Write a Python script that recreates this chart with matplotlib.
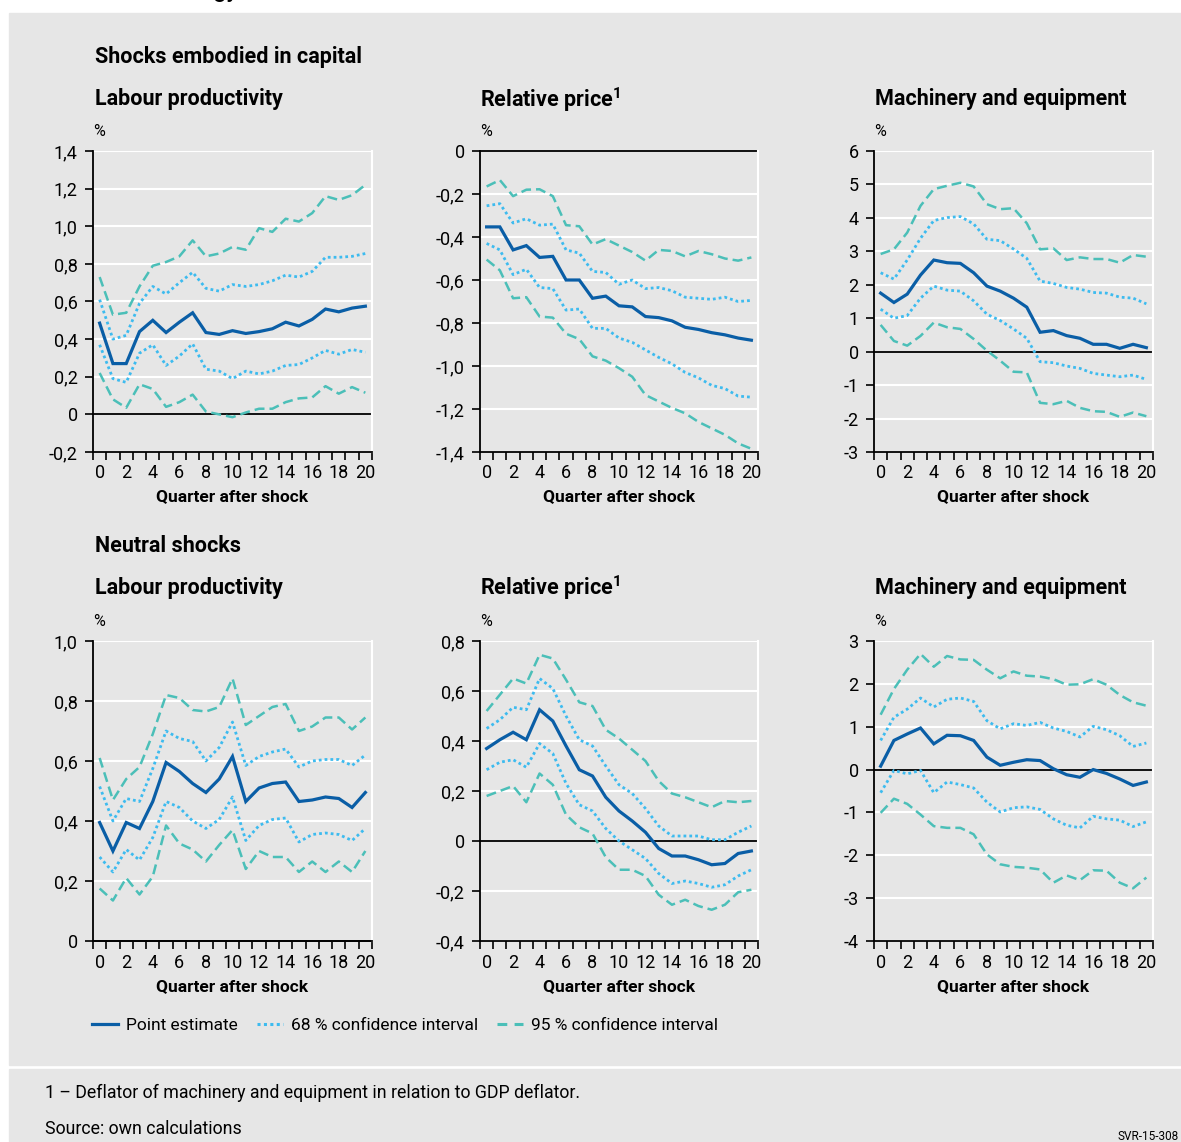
import matplotlib.pyplot as plt
from matplotlib.lines import Line2D
from matplotlib.patches import Rectangle

plt.rcParams['font.family'] = ['Roboto', 'DejaVu Sans']
plt.rcParams['mathtext.fontset'] = 'custom'
plt.rcParams['mathtext.rm'] = 'Roboto'
plt.rcParams['mathtext.bf'] = 'Roboto:bold'

# ------------------------------
# Data
quarters = list(range(21))

# Shocks embodied in capital - labour productivity
emb_lp_point = [0.485, 0.27, 0.27, 0.44, 0.50, 0.435, 0.49, 0.54, 0.435, 0.425, 0.445,
                0.43, 0.44, 0.455, 0.49, 0.47, 0.505, 0.56, 0.545, 0.565, 0.575]
emb_lp_hi68 = [0.61, 0.40, 0.42, 0.59, 0.68, 0.64, 0.70, 0.755, 0.67, 0.655, 0.69,
               0.68, 0.69, 0.71, 0.74, 0.73, 0.76, 0.835, 0.835, 0.84, 0.855]
emb_lp_lo68 = [0.37, 0.19, 0.17, 0.325, 0.37, 0.26, 0.31, 0.375, 0.24, 0.23, 0.19,
               0.23, 0.215, 0.23, 0.26, 0.265, 0.30, 0.34, 0.32, 0.345, 0.33]
emb_lp_hi95 = [0.73, 0.53, 0.54, 0.68, 0.79, 0.81, 0.84, 0.925, 0.84, 0.855, 0.89,
               0.875, 0.99, 0.97, 1.04, 1.025, 1.07, 1.16, 1.14, 1.165, 1.22]
emb_lp_lo95 = [0.22, 0.08, 0.035, 0.16, 0.135, 0.04, 0.065, 0.105, 0.015, 0.0, -0.015,
               0.01, 0.03, 0.03, 0.065, 0.085, 0.09, 0.15, 0.11, 0.145, 0.115]

# Shocks embodied in capital - relative price
emb_rp_point = [-0.353, -0.353, -0.46, -0.44, -0.495, -0.49, -0.60, -0.60, -0.685, -0.675, -0.72,
                -0.725, -0.77, -0.775, -0.79, -0.82, -0.83, -0.845, -0.855, -0.87, -0.88]
emb_rp_hi68 = [-0.255, -0.245, -0.335, -0.315, -0.345, -0.34, -0.46, -0.475, -0.56, -0.565, -0.62,
               -0.60, -0.64, -0.635, -0.65, -0.68, -0.685, -0.69, -0.68, -0.70, -0.695]
emb_rp_lo68 = [-0.43, -0.46, -0.575, -0.55, -0.635, -0.64, -0.74, -0.735, -0.825, -0.825, -0.87,
               -0.89, -0.925, -0.96, -0.99, -1.03, -1.055, -1.09, -1.105, -1.14, -1.145]
emb_rp_hi95 = [-0.165, -0.135, -0.21, -0.18, -0.178, -0.21, -0.345, -0.35, -0.435, -0.41, -0.44,
               -0.47, -0.51, -0.46, -0.465, -0.49, -0.465, -0.48, -0.50, -0.51, -0.495]
emb_rp_lo95 = [-0.505, -0.555, -0.685, -0.68, -0.77, -0.775, -0.85, -0.875, -0.955, -0.975, -1.01,
               -1.05, -1.135, -1.165, -1.195, -1.22, -1.26, -1.29, -1.32, -1.36, -1.385]

# Shocks embodied in capital - machinery and equipment
emb_me_point = [1.75, 1.47, 1.72, 2.29, 2.74, 2.66, 2.64, 2.36, 1.96, 1.81, 1.60,
                1.33, 0.58, 0.63, 0.48, 0.40, 0.22, 0.22, 0.10, 0.22, 0.12]
emb_me_hi68 = [2.36, 2.17, 2.74, 3.39, 3.92, 4.01, 4.04, 3.82, 3.36, 3.32, 3.07,
               2.79, 2.11, 2.04, 1.92, 1.87, 1.77, 1.75, 1.63, 1.60, 1.43]
emb_me_lo68 = [1.27, 1.00, 1.08, 1.60, 1.96, 1.84, 1.81, 1.52, 1.12, 0.93, 0.68,
               0.40, -0.30, -0.33, -0.43, -0.50, -0.65, -0.70, -0.75, -0.70, -0.83]
emb_me_hi95 = [2.92, 3.06, 3.56, 4.36, 4.86, 4.96, 5.05, 4.94, 4.41, 4.26, 4.29,
               3.84, 3.06, 3.09, 2.74, 2.82, 2.77, 2.77, 2.66, 2.89, 2.84]
emb_me_lo95 = [0.80, 0.32, 0.18, 0.47, 0.87, 0.73, 0.68, 0.38, 0.03, -0.27, -0.60,
               -0.62, -1.53, -1.57, -1.47, -1.68, -1.78, -1.80, -1.95, -1.82, -1.93]

# Neutral shocks - labour productivity
neu_lp_point = [0.395, 0.30, 0.395, 0.375, 0.465, 0.595, 0.565, 0.525, 0.495, 0.54, 0.615,
                0.465, 0.51, 0.525, 0.53, 0.465, 0.47, 0.48, 0.475, 0.445, 0.495]
neu_lp_hi68 = [0.515, 0.40, 0.475, 0.465, 0.575, 0.70, 0.675, 0.665, 0.60, 0.645, 0.73,
               0.585, 0.615, 0.63, 0.64, 0.58, 0.60, 0.605, 0.605, 0.585, 0.62]
neu_lp_lo68 = [0.28, 0.23, 0.305, 0.27, 0.345, 0.465, 0.445, 0.40, 0.375, 0.405, 0.48,
               0.335, 0.385, 0.405, 0.41, 0.33, 0.355, 0.36, 0.355, 0.335, 0.375]
neu_lp_hi95 = [0.61, 0.47, 0.54, 0.58, 0.69, 0.82, 0.81, 0.77, 0.765, 0.78, 0.875,
               0.72, 0.75, 0.78, 0.79, 0.70, 0.715, 0.745, 0.745, 0.705, 0.745]
neu_lp_lo95 = [0.175, 0.135, 0.21, 0.155, 0.215, 0.385, 0.325, 0.305, 0.265, 0.32, 0.37,
               0.24, 0.30, 0.28, 0.28, 0.23, 0.265, 0.23, 0.265, 0.23, 0.30]

# Neutral shocks - relative price
neu_rp_point = [0.37, 0.405, 0.435, 0.405, 0.525, 0.48, 0.38, 0.285, 0.26, 0.175, 0.12,
                0.08, 0.035, -0.03, -0.06, -0.06, -0.075, -0.095, -0.09, -0.05, -0.04]
neu_rp_hi68 = [0.45, 0.485, 0.535, 0.525, 0.65, 0.61, 0.50, 0.405, 0.38, 0.30, 0.225,
               0.19, 0.13, 0.06, 0.02, 0.02, 0.02, 0.005, 0.005, 0.035, 0.06]
neu_rp_lo68 = [0.285, 0.315, 0.325, 0.295, 0.39, 0.35, 0.23, 0.145, 0.12, 0.05, 0.0,
               -0.035, -0.07, -0.13, -0.17, -0.16, -0.17, -0.185, -0.175, -0.14, -0.115]
neu_rp_hi95 = [0.52, 0.585, 0.65, 0.63, 0.745, 0.73, 0.645, 0.555, 0.54, 0.445, 0.41,
               0.365, 0.32, 0.24, 0.19, 0.175, 0.155, 0.135, 0.16, 0.155, 0.16]
neu_rp_lo95 = [0.18, 0.20, 0.22, 0.155, 0.27, 0.225, 0.105, 0.055, 0.03, -0.065, -0.115,
               -0.115, -0.14, -0.215, -0.255, -0.235, -0.26, -0.275, -0.255, -0.205, -0.195]

# Neutral shocks - machinery and equipment
neu_me_point = [0.08, 0.68, 0.83, 0.97, 0.60, 0.80, 0.79, 0.68, 0.29, 0.10, 0.17,
                0.23, 0.21, 0.02, -0.12, -0.18, 0.0, -0.09, -0.22, -0.37, -0.29]
neu_me_hi68 = [0.68, 1.22, 1.41, 1.67, 1.46, 1.64, 1.67, 1.59, 1.14, 0.95, 1.07,
               1.03, 1.10, 0.97, 0.89, 0.76, 1.01, 0.93, 0.79, 0.54, 0.62]
neu_me_lo68 = [-0.54, -0.02, -0.10, -0.02, -0.54, -0.29, -0.35, -0.43, -0.76, -0.99, -0.89,
               -0.87, -0.93, -1.15, -1.30, -1.36, -1.09, -1.15, -1.18, -1.33, -1.22]
neu_me_hi95 = [1.28, 1.88, 2.33, 2.70, 2.40, 2.65, 2.57, 2.56, 2.33, 2.13, 2.29,
               2.19, 2.17, 2.11, 1.98, 1.99, 2.11, 1.98, 1.74, 1.57, 1.49]
neu_me_lo95 = [-1.01, -0.68, -0.80, -1.05, -1.32, -1.36, -1.36, -1.51, -1.98, -2.21, -2.27,
               -2.29, -2.33, -2.64, -2.47, -2.58, -2.35, -2.36, -2.64, -2.77, -2.52]

# ------------------------------
# Styles
W, H = 1181, 1142
GREY = '#e6e6e6'
C_POINT = '#0a5ea6'
C_68 = '#3dbbef'
C_95 = '#4bbfb8'


def fx(x):
    return x / W


def fy(y):
    return 1 - y / H


def fmt(v, decimals):
    if abs(v) < 1e-9:
        return '0'
    return f"{v:.{decimals}f}".replace('.', ',')


def draw_panel(left, top, right, bottom, series, ylim, step, decimals):
    ax = fig.add_axes([fx(left), fy(bottom), fx(right - left), (bottom - top) / H])
    ax.set_facecolor(GREY)
    point, hi68, lo68, hi95, lo95 = series
    ax.plot(quarters, hi95, color=C_95, lw=1.8, dashes=(4, 2), zorder=3)
    ax.plot(quarters, lo95, color=C_95, lw=1.8, dashes=(4, 2), zorder=3)
    ax.plot(quarters, hi68, color=C_68, lw=2.0, dashes=(1, 1.1), zorder=3)
    ax.plot(quarters, lo68, color=C_68, lw=2.0, dashes=(1, 1.1), zorder=3)
    ax.plot(quarters, point, color=C_POINT, lw=2.3, zorder=4, solid_joinstyle='miter')
    ax.set_xlim(-0.5, 20.5)
    ax.set_ylim(*ylim)
    n = int(round((ylim[1] - ylim[0]) / step))
    yt = [ylim[0] + i * step for i in range(n + 1)]
    ax.set_yticks(yt)
    ax.set_yticklabels([fmt(v, decimals) for v in yt])
    ax.set_xticks(range(0, 21, 2))
    ax.set_xticks([i - 0.5 for i in range(22)], minor=True)
    ax.tick_params(axis='x', which='major', length=0, pad=9, labelsize=13)
    ax.tick_params(axis='x', which='minor', length=6, width=1.2, direction='out')
    ax.tick_params(axis='y', which='major', length=6, width=1.2, pad=5, labelsize=13)
    for v in yt:
        if abs(v) > 1e-9:
            ax.axhline(v, color='white', lw=1.5, zorder=1)
    ax.axhline(0, color='black', lw=1.3, zorder=2, clip_on=False)
    ax.spines['top'].set_visible(False)
    ax.spines['right'].set_color('white')
    ax.spines['right'].set_linewidth(1.5)
    ax.spines['left'].set_linewidth(1.3)
    ax.spines['bottom'].set_linewidth(1.3)
    fig.text(fx((left + right) / 2), fy(497 if bottom < 600 else 987), 'Quarter after shock',
             ha='center', va='center', fontsize=12.5, fontweight='bold')
    fig.text(fx(left), fy(top - 15), '%', ha='left', va='baseline', fontsize=11.5)
    return ax


# ------------------------------
# Figure
fig = plt.figure(figsize=(W / 100, H / 100), dpi=100)
fig.patches.append(Rectangle((fx(9), fy(1065)), fx(W - 9), (1065 - 13) / H,
                             transform=fig.transFigure, color=GREY, zorder=-10))
fig.patches.append(Rectangle((fx(9), 0), fx(W - 9), (H - 1069) / H,
                             transform=fig.transFigure, color=GREY, zorder=-10))

fig.text(fx(238), fy(-3), 'Technology', ha='right', va='baseline', fontsize=16, fontweight='bold')

cols = [(93, 372), (480, 758), (874, 1153)]

fig.text(fx(95), fy(63), 'Shocks embodied in capital', fontsize=15.5, fontweight='bold', va='baseline')
fig.text(fx(95), fy(552), 'Neutral shocks', fontsize=15.5, fontweight='bold', va='baseline')
for base in (105, 594):
    fig.text(fx(95), fy(base), 'Labour productivity', fontsize=15.5, fontweight='bold', va='baseline')
    fig.text(fx(480), fy(base + 1.5), r'Relative price$^{\mathbf{1}}$', fontsize=15.5, fontweight='bold',
             va='baseline')
    fig.text(fx(875), fy(base), 'Machinery and equipment', fontsize=15.5, fontweight='bold', va='baseline')

draw_panel(cols[0][0], 151, cols[0][1], 452,
           (emb_lp_point, emb_lp_hi68, emb_lp_lo68, emb_lp_hi95, emb_lp_lo95), (-0.2, 1.4), 0.2, 1)
draw_panel(cols[1][0], 151, cols[1][1], 452,
           (emb_rp_point, emb_rp_hi68, emb_rp_lo68, emb_rp_hi95, emb_rp_lo95), (-1.4, 0.0), 0.2, 1)
draw_panel(cols[2][0], 151, cols[2][1], 452,
           (emb_me_point, emb_me_hi68, emb_me_lo68, emb_me_hi95, emb_me_lo95), (-3, 6), 1, 0)
draw_panel(cols[0][0], 641, cols[0][1], 941,
           (neu_lp_point, neu_lp_hi68, neu_lp_lo68, neu_lp_hi95, neu_lp_lo95), (0.0, 1.0), 0.2, 1)
draw_panel(cols[1][0], 641, cols[1][1], 941,
           (neu_rp_point, neu_rp_hi68, neu_rp_lo68, neu_rp_hi95, neu_rp_lo95), (-0.4, 0.8), 0.2, 1)
draw_panel(cols[2][0], 641, cols[2][1], 941,
           (neu_me_point, neu_me_hi68, neu_me_lo68, neu_me_hi95, neu_me_lo95), (-4, 3), 1, 0)

# Legend
handles = [
    Line2D([], [], color=C_POINT, lw=2.3),
    Line2D([], [], color=C_68, lw=2.2, dashes=(1, 1.1)),
    Line2D([], [], color=C_95, lw=2.2, dashes=(3.2, 2.4)),
]
labels = ['Point estimate', '68 % confidence interval', '95 % confidence interval']
fig.legend(handles, labels, loc='center left', bbox_to_anchor=(fx(92), fy(1025)),
           ncol=3, frameon=False, fontsize=12.5, handlelength=1.5, handletextpad=0.45,
           columnspacing=1.1, borderpad=0, borderaxespad=0)

# Footer
fig.text(fx(45), fy(1093), '1 \u2013 Deflator of machinery and equipment in relation to GDP deflator.',
         fontsize=12.8, va='center')
fig.text(fx(45), fy(1129), 'Source: own calculations', fontsize=12.8, va='center')
fig.text(fx(1117), fy(1137), 'SVR-15-308', fontsize=8.5, va='center')

fig.savefig('out.png', dpi=100)
